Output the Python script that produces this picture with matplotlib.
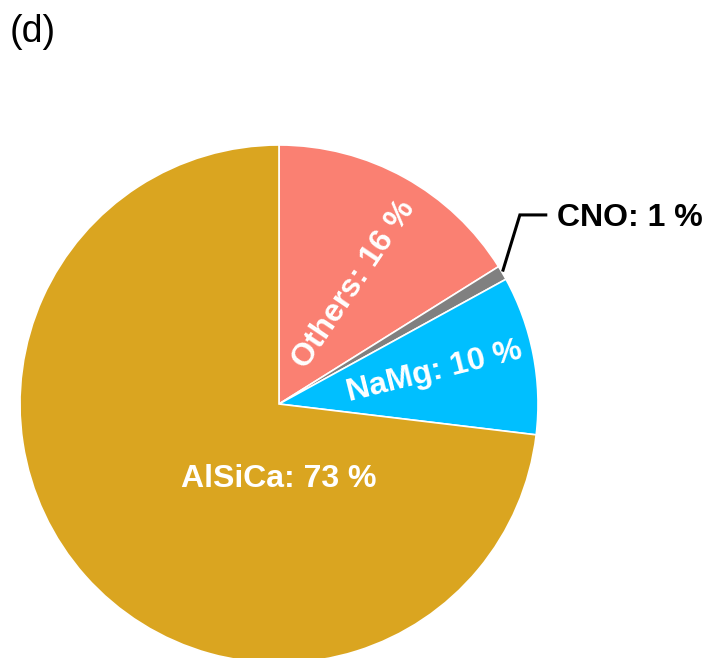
import matplotlib
matplotlib.use("Agg")
import matplotlib.pyplot as plt

plt.rcParams['font.family'] = ['Liberation Sans', 'DejaVu Sans']

labels = ["Others", "CNO", "NaMg", "AlSiCa"]
values = [16.1, 0.9, 9.9, 73.1]
shown = ["16", "1", "10", "73"]
colors = ["#FA8072", "#808080", "#00BFFF", "#DAA520"]

W, H = 708, 658
fig = plt.figure(figsize=(W / 100, H / 100), dpi=100)
cx, cy, r = 279, 404, 259
ax = fig.add_axes([(cx - r) / W, (H - cy - r) / H, 2 * r / W, 2 * r / H])
wedges, _ = ax.pie(values, colors=colors, startangle=90, counterclock=False,
                   radius=1.0, wedgeprops=dict(edgecolor="white", linewidth=1.2))
for w in wedges:
    w.set_clip_on(False)
ax.set_xlim(-1, 1)
ax.set_ylim(-1, 1)
ax.set_aspect("equal")
ax.axis("off")

fs = 23
ax.text(0.29, 0.46, f"{labels[0]}: {shown[0]} %", color="white", fontsize=fs,
        fontweight="bold", rotation=56, ha="center", va="center", rotation_mode="anchor")
ax.text(0.60, 0.125, f"{labels[2]}: {shown[2]} %", color="white", fontsize=fs,
        fontweight="bold", rotation=14, ha="center", va="center", rotation_mode="anchor")
ax.text(0.0, -0.29, f"{labels[3]}: {shown[3]} %", color="white", fontsize=fs,
        fontweight="bold", ha="center", va="center")
ax.plot([0.865, 0.93, 1.03], [0.517, 0.73, 0.73], color="black", lw=2.2,
        clip_on=False, solid_joinstyle="miter")
ax.text(1.073, 0.72, f"{labels[1]}: {shown[1]} %", color="black", fontsize=fs,
        fontweight="bold", ha="left", va="center")

fig.text(10 / W, 1 - 32 / H, "(d)", fontsize=27, ha="left", va="center")

fig.savefig("out.png", dpi=100)
